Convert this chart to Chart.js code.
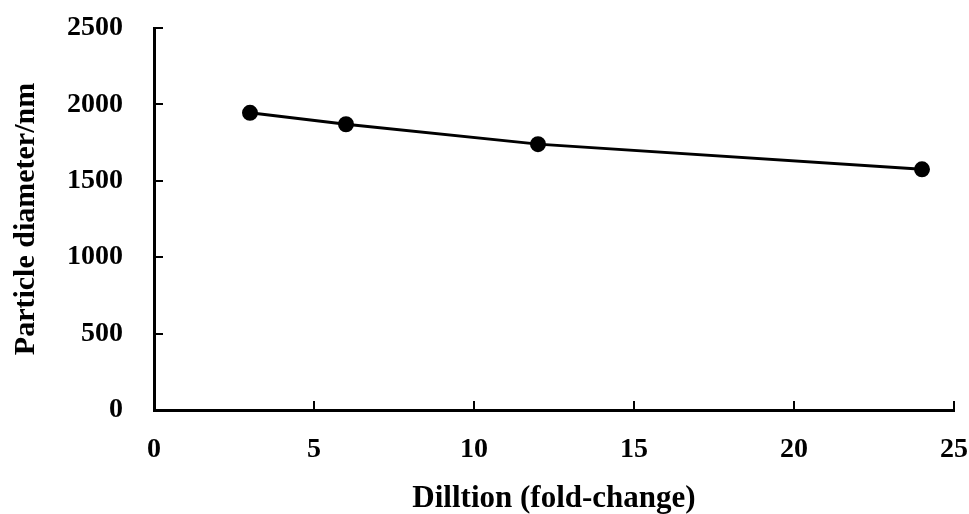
<!DOCTYPE html>
<html>
<head>
<meta charset="utf-8">
<script src="https://cdn.jsdelivr.net/npm/chart.js@4.4.1/dist/chart.umd.min.js"></script>
<style>
  html, body { margin: 0; padding: 0; background: #fff; }
  #wrap { width: 969px; height: 514px; position: relative; }
</style>
</head>
<body>
<div id="wrap"><canvas id="myChart" width="969" height="514"></canvas></div>
<script>
'use strict';

// dilution fold and measured diameter
var dilution = [3, 6, 12, 24];
var diameter = [1945, 1870, 1740, 1575];
var xTicks = [0, 5, 10, 15, 20, 25];
var yTicks = [0, 500, 1000, 1500, 2000, 2500];

var FONT = '"Liberation Serif", "DejaVu Serif", serif';

// tick marks point inward in the original, so draw them ourselves
var inwardTicks = {
  id: 'inwardTicks',
  afterDraw: function (chart) {
    var ctx = chart.ctx;
    var xs = chart.scales.x, ys = chart.scales.y;
    var area = chart.chartArea;
    ctx.save();
    ctx.strokeStyle = '#000';
    ctx.lineWidth = 2;
    ctx.beginPath();
    xTicks.forEach(function (v) {
      if (v === 0) return;
      var px = Math.round(xs.getPixelForValue(v));
      ctx.moveTo(px, area.bottom);
      ctx.lineTo(px, area.bottom - 9);
    });
    yTicks.forEach(function (v) {
      if (v === 0) return;
      var py = Math.round(ys.getPixelForValue(v));
      ctx.moveTo(area.left, py);
      ctx.lineTo(area.left + 9, py);
    });
    ctx.stroke();
    ctx.restore();
  }
};

var ctx = document.getElementById('myChart').getContext('2d');
var myChart = new Chart(ctx, {
  type: 'scatter',
  data: {
    datasets: [{
      data: dilution.map(function (d, i) { return { x: d, y: diameter[i] }; }),
      showLine: true,
      borderColor: '#000',
      backgroundColor: '#000',
      borderWidth: 3,
      pointRadius: 6.5,
      pointHoverRadius: 6.5
    }]
  },
  options: {
    responsive: false,
    animation: false,
    layout: { padding: { top: 28, right: 15, bottom: 0, left: 0 } },
    plugins: { legend: { display: false }, tooltip: { enabled: false } },
    scales: {
      x: {
        type: 'linear',
        min: 0, max: 25,
        afterBuildTicks: function (s) { s.ticks = xTicks.map(function (v) { return { value: v }; }); },
        afterFit: function (s) { s.height = 104; s.paddingLeft = 0; s.paddingRight = 0; },
        border: { color: '#000', width: 3 },
        grid: { display: false, drawTicks: false },
        ticks: {
          color: '#000', padding: 23, maxRotation: 0,
          font: { family: FONT, size: 28, weight: 'bold' },
          callback: function (v) { return String(v); }
        },
        title: {
          display: true, text: 'Dilltion (fold-change)', color: '#000',
          padding: { top: 0, bottom: 0 },
          font: { family: FONT, size: 31, weight: 'bold', lineHeight: 1.0 }
        }
      },
      y: {
        min: 0, max: 2500,
        afterBuildTicks: function (s) { s.ticks = yTicks.map(function (v) { return { value: v }; }); },
        afterFit: function (s) { s.width = 154; s.paddingTop = 0; s.paddingBottom = 0; },
        border: { color: '#000', width: 3 },
        grid: { display: false, drawTicks: false },
        ticks: {
          color: '#000', padding: 31,
          font: { family: FONT, size: 28, weight: 'bold' },
          callback: function (v) { return String(v); }
        },
        title: {
          display: true, text: 'Particle diameter/nm', color: '#000',
          padding: { top: 8, bottom: 0 },
          font: { family: FONT, size: 30, weight: 'bold' }
        }
      }
    }
  },
  plugins: [inwardTicks]
});
</script>
</body>
</html>
